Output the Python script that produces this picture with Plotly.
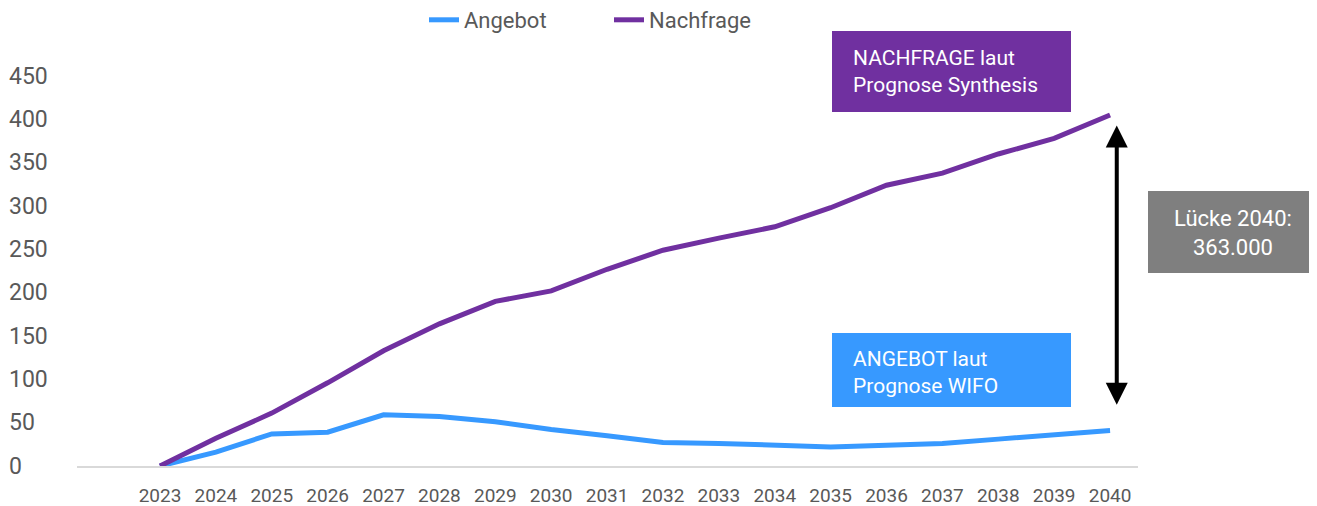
import plotly.graph_objects as go

years = list(range(2023, 2041))
angebot = [0, 16, 37, 39, 59, 57, 51, 42, 35, 27, 26, 24, 22, 24, 26, 31, 36, 41]
nachfrage = [0, 32, 61, 96, 133, 164, 190, 202, 227, 249, 263, 276, 298, 324, 338, 360, 378, 405]
y_ticks = [0, 50, 100, 150, 200, 250, 300, 350, 400, 450]
gap_label = "Lücke 2040:<br>363.000"

SW, SH = 1317, 506      # screenshot size
OFF = 8                 # page body margin
W, H = SW - OFF, SH - OFF
L, R, T, B = 77, 1138, 50, 466  # plot area in screenshot px
YMAX = 480

def px(xp):
    return (xp - L) / (R - L)

def py(yp):
    return (B - yp) / (B - T)

BLUE = "#3799FF"
PURPLE = "#7030A0"
GRAY_TXT = "#595959"
FONT = "Roboto"

fig = go.Figure()
fig.add_trace(go.Scatter(x=years, y=angebot, mode="lines", name="Angebot",
                         line=dict(color=BLUE, width=5)))
fig.add_trace(go.Scatter(x=years, y=nachfrage, mode="lines", name="Nachfrage",
                         line=dict(color=PURPLE, width=5)))

annotations = []
for t in y_ticks:
    annotations.append(dict(x=px(7), xref="paper", y=t, yref="y", text=str(t),
                            showarrow=False, xanchor="left", yanchor="middle",
                            font=dict(family=FONT, size=23, color=GRAY_TXT)))

shapes = [
    dict(type="rect", xref="paper", yref="paper", x0=px(832), x1=px(1071),
         y0=py(112), y1=py(31), fillcolor=PURPLE, line=dict(width=0), layer="below"),
    dict(type="rect", xref="paper", yref="paper", x0=px(832), x1=px(1071),
         y0=py(407), y1=py(333), fillcolor=BLUE, line=dict(width=0), layer="below"),
    dict(type="rect", xref="paper", yref="paper", x0=px(1148), x1=px(1317),
         y0=py(273), y1=py(191), fillcolor="#7F7F7F", line=dict(width=0), layer="below"),
]

annotations += [
    dict(x=px(851), xref="paper", y=py(71), yref="paper",
         text="NACHFRAGE laut<br>Prognose Synthesis", showarrow=False,
         xanchor="left", yanchor="middle", align="left",
         font=dict(family=FONT, size=21, color="white")),
    dict(x=px(851), xref="paper", y=py(372), yref="paper",
         text="ANGEBOT laut<br>Prognose WIFO", showarrow=False,
         xanchor="left", yanchor="middle", align="left",
         font=dict(family=FONT, size=21, color="white")),
    dict(x=px(1233), xref="paper", y=py(233), yref="paper",
         text=gap_label, showarrow=False,
         xanchor="center", yanchor="middle", align="center",
         font=dict(family=FONT, size=22, color="white")),
    # double-headed arrow showing the gap
    dict(x=years[-1] + 0.12, y=nachfrage[-1] - 12, xref="x", yref="y",
         ax=years[-1] + 0.12, ay=angebot[-1] + 28, axref="x", ayref="y",
         text="", showarrow=True, arrowhead=2, arrowside="end+start",
         arrowsize=1.1, arrowwidth=4, arrowcolor="black"),
]

fig.update_layout(
    width=W, height=H,
    margin=dict(l=L - OFF, r=SW - R, t=T - OFF, b=SH - B, autoexpand=False),
    paper_bgcolor="white", plot_bgcolor="white",
    font=dict(family=FONT, color=GRAY_TXT),
    showlegend=True,
    legend=dict(orientation="h", x=px(424), xanchor="left", y=py(20), yanchor="middle",
                font=dict(family=FONT, size=22, color=GRAY_TXT),
                bgcolor="rgba(0,0,0,0)", entrywidth=140, entrywidthmode="pixels",
                tracegroupgap=0),
    xaxis=dict(range=[2021.515, 2040.5], tickmode="array", tickvals=years,
               ticktext=[str(y) for y in years], showgrid=False, zeroline=False,
               showline=True, linecolor="#D9D9D9", linewidth=2, ticks="",
               ticklabelstandoff=11, tickfont=dict(family=FONT, size=19, color=GRAY_TXT),
               automargin=False, fixedrange=True),
    yaxis=dict(range=[0, YMAX], showgrid=False, zeroline=False, showline=False,
               showticklabels=False, ticks="", automargin=False, fixedrange=True),
    shapes=shapes,
    annotations=annotations,
)

fig.write_html("out.html", config={"displayModeBar": False})
